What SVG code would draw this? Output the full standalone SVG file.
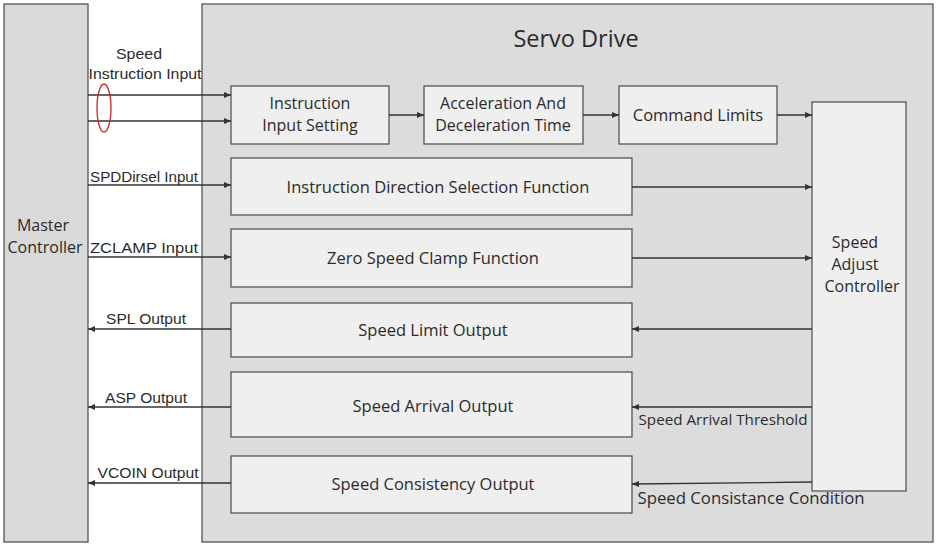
<svg xmlns="http://www.w3.org/2000/svg" width="937" height="545" viewBox="0 0 937 545">
<defs>
<marker id="ah" markerWidth="8" markerHeight="6" refX="7" refY="3" orient="auto" markerUnits="userSpaceOnUse">
<path d="M0,0 L7,3 L0,6 z" fill="#333"/>
</marker>
<style>
.box{fill:#efefef;stroke:#555;stroke-width:1.3}
.t{font-family:"Open Sans","Liberation Sans",sans-serif;font-size:16.5px;fill:#2b2b2b;text-anchor:middle}
.m{font-size:16px}
.l{font-family:"Liberation Sans","Open Sans",sans-serif;font-size:15.5px;fill:#2b2b2b;text-anchor:middle}
.c{stroke:#333;stroke-width:1.3;fill:none;marker-end:url(#ah)}
</style>
</defs>
<rect x="0" y="0" width="937" height="545" fill="#ffffff"/>
<g id="master">
<rect x="4" y="4" width="84" height="538" fill="#d9d9d9" stroke="#555" stroke-width="1.3"/>
<text class="t m" x="43" y="231">Master</text>
<text class="t m" x="45" y="253">Controller</text>
</g>
<g id="servo">
<rect x="202" y="4" width="731" height="538" fill="#dcdcdc" stroke="#555" stroke-width="1.3"/>
<text class="t" x="576" y="47" style="font-size:23.5px">Servo Drive</text>
</g>
<g id="iis">
<rect class="box" x="231" y="86" width="158" height="58"/>
<text class="t m" x="310" y="109">Instruction</text>
<text class="t m" x="310" y="131">Input Setting</text>
</g>
<g id="adt">
<rect class="box" x="424" y="86" width="159" height="58"/>
<text class="t m" x="503" y="109">Acceleration And</text>
<text class="t m" x="503" y="131">Deceleration Time</text>
</g>
<g id="cl">
<rect class="box" x="619" y="86" width="158" height="58"/>
<text class="t" x="698" y="121">Command Limits</text>
</g>
<g id="sac">
<rect class="box" x="812" y="102" width="94" height="389"/>
<text class="t m" x="855" y="248">Speed</text>
<text class="t m" x="855" y="270">Adjust</text>
<text class="t m" x="862" y="292">Controller</text>
</g>
<g id="idsf">
<rect class="box" x="231" y="158" width="401" height="57"/>
<text class="t" x="438" y="193">Instruction Direction Selection Function</text>
</g>
<g id="zscf">
<rect class="box" x="231" y="229" width="401" height="58"/>
<text class="t" x="433" y="264">Zero Speed Clamp Function</text>
</g>
<g id="slo">
<rect class="box" x="231" y="303" width="401" height="54"/>
<text class="t" x="433" y="336">Speed Limit Output</text>
</g>
<g id="sao">
<rect class="box" x="231" y="372" width="401" height="65"/>
<text class="t" x="433" y="412">Speed Arrival Output</text>
</g>
<g id="sco">
<rect class="box" x="231" y="456" width="401" height="57"/>
<text class="t" x="433" y="490">Speed Consistency Output</text>
</g>
<g id="connectors">
<line class="c" x1="88" y1="95" x2="231" y2="95"/>
<line class="c" x1="88" y1="121" x2="231" y2="121"/>
<ellipse cx="104" cy="108" rx="7" ry="24" fill="none" stroke="#c8282d" stroke-width="1.3"/>
<line class="c" x1="389" y1="115" x2="424" y2="115"/>
<line class="c" x1="583" y1="115" x2="619" y2="115"/>
<line class="c" x1="777" y1="115" x2="812" y2="115"/>
<line class="c" x1="88" y1="185" x2="231" y2="185"/>
<line class="c" x1="632" y1="187" x2="812" y2="187"/>
<line class="c" x1="88" y1="257" x2="231" y2="257"/>
<line class="c" x1="632" y1="258" x2="812" y2="258"/>
<line class="c" x1="231" y1="329" x2="88" y2="329"/>
<line class="c" x1="812" y1="329" x2="632" y2="329"/>
<line class="c" x1="231" y1="407" x2="88" y2="407"/>
<line class="c" x1="812" y1="407" x2="632" y2="407"/>
<line class="c" x1="231" y1="483" x2="88" y2="483"/>
<line class="c" x1="812" y1="482" x2="632" y2="484"/>
<text class="l" x="139" y="59" textLength="46" lengthAdjust="spacingAndGlyphs">Speed</text>
<text class="l" x="145" y="79" textLength="113" lengthAdjust="spacingAndGlyphs">Instruction Input</text>
<text class="l" x="144" y="182" textLength="108" lengthAdjust="spacingAndGlyphs">SPDDirsel Input</text>
<text class="l" x="144" y="253" textLength="108" lengthAdjust="spacingAndGlyphs">ZCLAMP Input</text>
<text class="l" x="146" y="324" textLength="80" lengthAdjust="spacingAndGlyphs">SPL Output</text>
<text class="l" x="146" y="403" textLength="82" lengthAdjust="spacingAndGlyphs">ASP Output</text>
<text class="l" x="148" y="478" textLength="101" lengthAdjust="spacingAndGlyphs">VCOIN Output</text>
<text class="t" x="723" y="425" style="font-size:15px" textLength="169" lengthAdjust="spacingAndGlyphs">Speed Arrival Threshold</text>
<text class="t" x="751" y="504" style="font-size:16px" textLength="227" lengthAdjust="spacingAndGlyphs">Speed Consistance Condition</text>
</g>
</svg>
